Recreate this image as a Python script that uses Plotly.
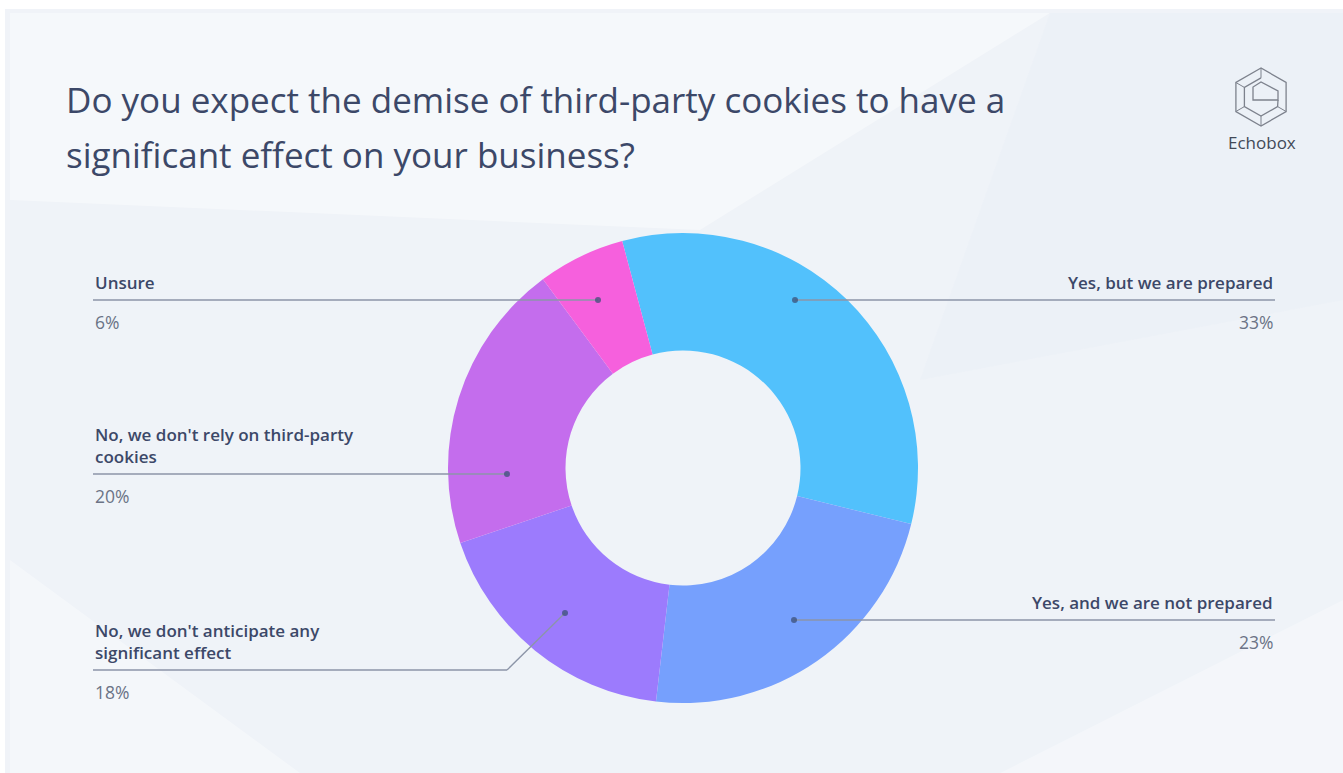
import math
import plotly.graph_objects as go

# Survey answers, in clockwise order from the top of the ring
categories = [
    "Yes, but we are prepared",
    "Yes, and we are not prepared",
    "No, we don't anticipate any significant effect",
    "No, we don't rely on third-party cookies",
    "Unsure",
]
shares = [33, 23, 18, 20, 6]
slice_colors = ["#52c1fc", "#76a0fd", "#9c7bfd", "#c46ded", "#f660dd"]

# Callout text: label lines for each answer
callout_lines = [
    ["Yes, but we are prepared"],
    ["Yes, and we are not prepared"],
    ["No, we don't anticipate any", "significant effect"],
    ["No, we don't rely on third-party", "cookies"],
    ["Unsure"],
]

W, H = 1343, 773
CX, CY, R = 683, 468, 235          # ring centre / outer radius in pixels

# Leader geometry: (side, dot point, optional elbow, rule y)
leaders = [
    ("right", (795, 300), None, 300),
    ("right", (794, 620), None, 620),
    ("left", (565, 613), (507, 670), 670),
    ("left", (507, 474), None, 474),
    ("left", (598, 300), None, 300),
]
LEFT_X, RIGHT_X = 93, 1275

TEXT = "#3c4868"
SUB = "#6b7386"
RULE = "#8c95a8"
FONT = "Open Sans, Noto Sans, sans-serif"

fig = go.Figure()

# Invisible pixel-space axes used for the decoration layer
fig.add_trace(go.Scatter(x=[0, W], y=[0, H], mode="markers",
                         marker=dict(opacity=0), hoverinfo="skip", showlegend=False))

fig.add_trace(go.Pie(
    labels=categories,
    values=shares,
    sort=False,
    direction="clockwise",
    rotation=-15,
    hole=0.5,
    marker=dict(colors=slice_colors, line=dict(width=0)),
    textinfo="none",
    hoverinfo="label+percent",
    showlegend=False,
    domain=dict(x=[(CX - R) / W, (CX + R) / W],
                y=[(H - CY - R) / H, (H - CY + R) / H]),
))

shapes = []
# card background and soft edge
shapes.append(dict(type="rect", x0=0, y0=0, x1=W, y1=H, fillcolor="#ffffff",
                   line=dict(width=0), layer="below"))
shapes.append(dict(type="rect", x0=5, y0=9, x1=W, y1=H, fillcolor="#f0f3f8",
                   line=dict(width=0), layer="below"))
shapes.append(dict(type="rect", x0=10, y0=13, x1=W, y1=H, fillcolor="#eff3f8",
                   line=dict(width=0), layer="below"))
# faint facets in the background
facets = [
    ("M 10 13 L 1050 13 L 700 230 L 10 200 Z", "rgba(255,255,255,0.40)"),
    ("M 1050 13 L 1343 13 L 1343 300 L 920 380 Z", "rgba(232,237,246,0.35)"),
    ("M 10 560 L 300 773 L 10 773 Z", "rgba(255,255,255,0.35)"),
    ("M 1000 773 L 1343 600 L 1343 773 Z", "rgba(255,255,255,0.30)"),
]
for path, col in facets:
    shapes.append(dict(type="path", path=path, fillcolor=col,
                       line=dict(width=0), layer="below"))

annotations = []
for (side, dot, elbow, ry), lines, val in zip(leaders, callout_lines, shares):
    end_x = RIGHT_X if side == "right" else LEFT_X
    start = elbow if elbow else dot
    if elbow:
        shapes.append(dict(type="line", x0=dot[0], y0=dot[1], x1=elbow[0], y1=elbow[1],
                           line=dict(color=RULE, width=1.3), layer="above"))
    shapes.append(dict(type="line", x0=start[0], y0=ry, x1=end_x, y1=ry,
                       line=dict(color=RULE, width=1.3), layer="above"))
    shapes.append(dict(type="circle", x0=dot[0] - 3, y0=dot[1] - 3,
                       x1=dot[0] + 3, y1=dot[1] + 3,
                       fillcolor="rgba(60,80,120,0.75)", line=dict(width=0), layer="above"))
    anchor = "right" if side == "right" else "left"
    n = len(lines)
    for i, txt in enumerate(lines):
        annotations.append(dict(
            x=end_x, y=ry - 18 - (n - 1 - i) * 22, xref="x", yref="y",
            text=txt, showarrow=False, xanchor=anchor, yanchor="middle",
            font=dict(family=FONT, size=17, color=TEXT, weight=600)))
    annotations.append(dict(
        x=end_x, y=ry + 22, xref="x", yref="y", text=f"{val}%",
        showarrow=False, xanchor=anchor, yanchor="middle",
        font=dict(family=FONT, size=17.5, color=SUB)))

# headline
annotations.append(dict(x=64, y=99, xref="x", yref="y",
                        text="Do you expect the demise of third-party cookies to have a",
                        showarrow=False, xanchor="left", yanchor="middle",
                        font=dict(family=FONT, size=35, color=TEXT)))
annotations.append(dict(x=64, y=154, xref="x", yref="y",
                        text="significant effect on your business?",
                        showarrow=False, xanchor="left", yanchor="middle",
                        font=dict(family=FONT, size=35, color=TEXT)))

# brand mark: hexagonal outline with an inner "e" fold
LX, LY, s = 1261, 97, 29
LOGO = "#7d828d"
hexa = []
for k in range(6):
    a = math.radians(90 + 60 * k)
    hexa.append((LX + s * math.cos(a), LY - s * math.sin(a)))
hex_path = "M " + " L ".join(f"{x:.1f} {y:.1f}" for x, y in hexa) + " Z"
shapes.append(dict(type="path", path=hex_path, line=dict(color=LOGO, width=1.3)))
inner = [(LX + 0.66 * (x - LX), LY + 0.66 * (y - LY)) for x, y in hexa]
in_path = "M " + " L ".join(f"{x:.1f} {y:.1f}" for x, y in inner[:5]) + " L %.1f %.1f" % (LX + 17, LY + 3)
shapes.append(dict(type="path", path=in_path, line=dict(color=LOGO, width=1.3)))
shapes.append(dict(type="path",
                   path=f"M {LX-8} {LY+3} L {LX+17} {LY+3} L {LX+17} {LY-6} L {LX} {LY-15} L {LX-8} {LY-10} Z",
                   line=dict(color=LOGO, width=1.3)))
for k in range(6):
    x0, y0 = hexa[k]
    x1, y1 = inner[k]
    if k != 5:
        shapes.append(dict(type="line", x0=x0, y0=y0, x1=x1, y1=y1,
                           line=dict(color=LOGO, width=1)))
annotations.append(dict(x=1262, y=142, xref="x", yref="y", text="Echobox",
                        showarrow=False, xanchor="center", yanchor="middle",
                        font=dict(family=FONT, size=17, color="#424957", weight=500)))

fig.update_layout(
    width=W, height=H,
    margin=dict(l=0, r=0, t=0, b=0),
    paper_bgcolor="#eff3f8",
    plot_bgcolor="rgba(0,0,0,0)",
    xaxis=dict(range=[0, W], visible=False, fixedrange=True, domain=[0, 1]),
    yaxis=dict(range=[H, 0], visible=False, fixedrange=True, domain=[0, 1]),
    shapes=shapes,
    annotations=annotations,
    showlegend=False,
)

fig.write_html("out.html")
